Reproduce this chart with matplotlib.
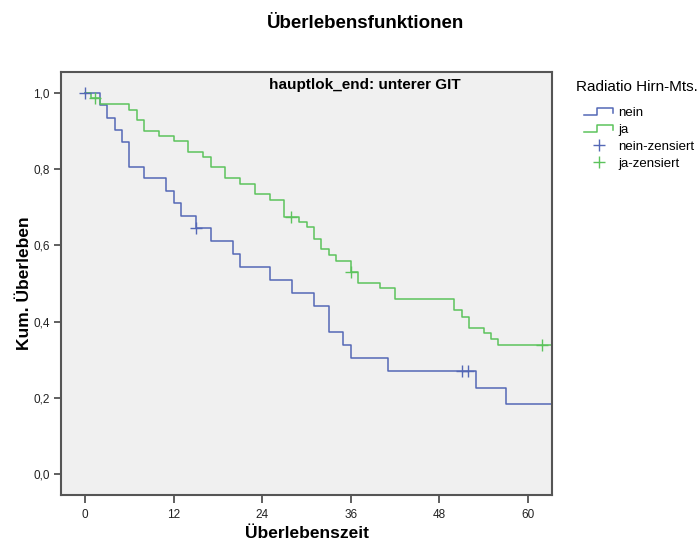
import matplotlib
matplotlib.use("Agg")
import matplotlib.pyplot as plt
from matplotlib.lines import Line2D
from matplotlib.legend_handler import HandlerBase

plt.rcParams['font.family'] = ['Liberation Sans', 'DejaVu Sans']

# ---- data ----
nein_times = [0, 2, 3, 4, 5, 6, 8, 11, 12, 13, 15, 17, 20, 21, 25, 28, 31, 33, 35, 36, 41, 53, 57]
nein_surv = [1.0, 0.969, 0.935, 0.903, 0.872, 0.807, 0.776, 0.742, 0.710, 0.678, 0.645, 0.612,
             0.577, 0.544, 0.509, 0.476, 0.442, 0.374, 0.339, 0.305, 0.271, 0.227, 0.183]
nein_cens_t = [0, 15, 51.0, 51.9]
nein_cens_s = [1.0, 0.645, 0.271, 0.271]

ja_times = [0, 0.8, 2, 6, 7, 8, 10, 12, 14, 16, 17, 19, 21, 23, 25, 27, 29, 30, 31, 32, 33, 34,
            36, 37, 40, 42, 50, 51, 52, 54, 55, 56]
ja_surv = [1.0, 0.986, 0.972, 0.955, 0.929, 0.901, 0.888, 0.874, 0.846, 0.831, 0.806, 0.776,
           0.761, 0.734, 0.718, 0.675, 0.662, 0.647, 0.617, 0.591, 0.575, 0.560, 0.531, 0.502,
           0.488, 0.459, 0.430, 0.413, 0.384, 0.369, 0.354, 0.339]
ja_cens_t = [1.4, 27.9, 36, 61.9]
ja_cens_s = [0.986, 0.675, 0.531, 0.339]

x_ticks = [0, 12, 24, 36, 48, 60]
y_ticks = [0.0, 0.2, 0.4, 0.6, 0.8, 1.0]
y_tick_labels = ['0,0', '0,2', '0,4', '0,6', '0,8', '1,0']
group_labels = ['nein', 'ja']
cens_labels = ['nein-zensiert', 'ja-zensiert']

blue = '#5468b6'
green = '#5cc35c'

fig = plt.figure(figsize=(7, 5.45), dpi=100)
ax = fig.add_axes([61/700, 50/545, 491/700, 423/545])
ax.set_facecolor('#f0f0f0')
ax.set_xlim(-3.25, 63.25)
ax.set_ylim(-0.055, 1.055)

end_x = 64
ax.step(nein_times + [end_x], nein_surv + [nein_surv[-1]], where='post', color=blue, lw=1.1)
ax.step(ja_times + [end_x], ja_surv + [ja_surv[-1]], where='post', color=green, lw=1.1)
ax.plot(nein_cens_t, nein_cens_s, ls='none', marker='+', color=blue, ms=8, mew=1.0)
ax.plot(ja_cens_t, ja_cens_s, ls='none', marker='+', color=green, ms=8, mew=1.0)

ax.set_xticks(x_ticks)
ax.set_xticklabels([str(t) for t in x_ticks])
ax.set_yticks(y_ticks)
ax.set_yticklabels(y_tick_labels)
ax.tick_params(axis='both', direction='out', length=5, width=1.2, color='#444444',
               labelsize=8.5, labelcolor='#222222', pad=3)
ax.tick_params(axis='x', length=6, pad=4)
for s in ax.spines.values():
    s.set_color('#555555')
    s.set_linewidth(1.5)

ax.set_xlabel('Überlebenszeit', fontsize=12.5, fontweight='bold', labelpad=4)
ax.set_ylabel('Kum. Überleben', fontsize=12.5, fontweight='bold', labelpad=1)

fig.text(365/700, 1 - 24/545, 'Überlebensfunktionen', ha='center', va='center',
         fontsize=13.5, fontweight='bold')
fig.text(365/700, 1 - 85/545, 'hauptlok_end: unterer GIT', ha='center', va='center',
         fontsize=11, fontweight='bold')
fig.text(576/700, 1 - 87/545, 'Radiatio Hirn-Mts.', ha='left', va='center', fontsize=11)


class StepHandler(HandlerBase):
    def create_artists(self, legend, orig_handle, xdescent, ydescent, width, height,
                       fontsize, trans):
        x0 = -xdescent
        y0 = -ydescent
        xs = [x0, x0 + 0.45 * width, x0 + 0.45 * width, x0 + width, x0 + width]
        ys = [y0 + 0.15 * height, y0 + 0.15 * height, y0 + 0.85 * height,
              y0 + 0.85 * height, y0 + 0.35 * height]
        ln = Line2D(xs, ys, color=orig_handle.get_color(), lw=1.1, transform=trans)
        return [ln]


h_nein = Line2D([], [], color=blue)
h_ja = Line2D([], [], color=green)
h_nc = Line2D([], [], ls='none', marker='+', color=blue, ms=9, mew=1.0)
h_jc = Line2D([], [], ls='none', marker='+', color=green, ms=9, mew=1.0)
leg = fig.legend([h_nein, h_ja, h_nc, h_jc], group_labels + cens_labels,
                 handler_map={h_nein: StepHandler(), h_ja: StepHandler()},
                 loc='upper left', bbox_to_anchor=(584/700, 1 - 107/545), frameon=False,
                 fontsize=9.5, borderpad=0, borderaxespad=0, handlelength=2.2,
                 handletextpad=0.4, labelspacing=0.35)

fig.savefig('out.png', dpi=100)
